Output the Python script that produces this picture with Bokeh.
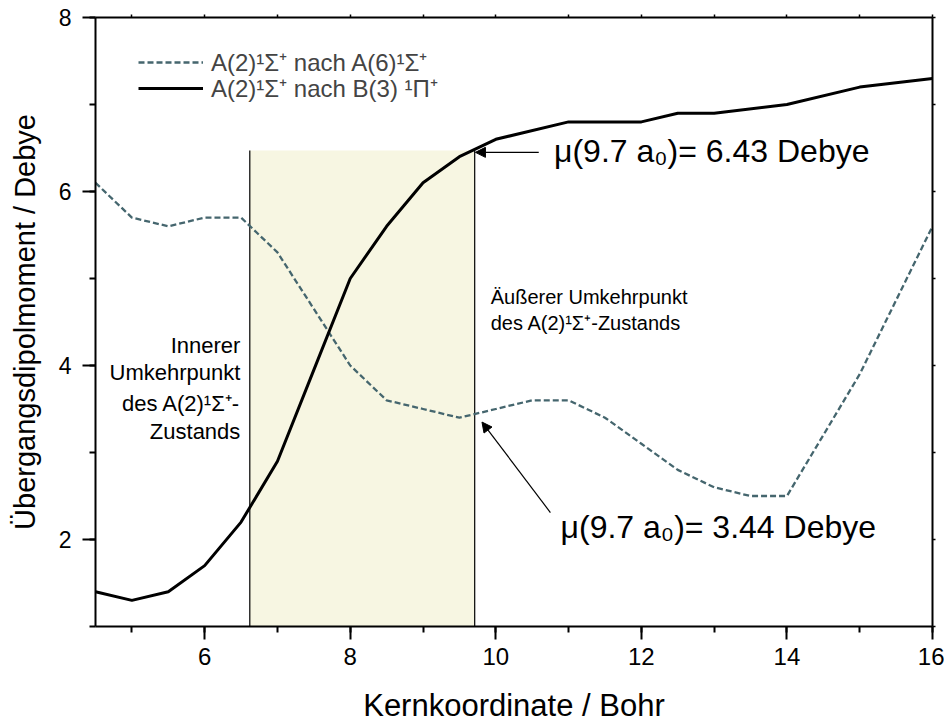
from bokeh.plotting import figure
from bokeh.models import (Range1d, LinearAxis, SingleIntervalTicker, Legend, LegendItem,
                          Arrow, NormalHead)
from bokeh.core.properties import value
from bokeh.embed import file_html
from bokeh.resources import INLINE

# ---- data ----
r_a6 = [4.5, 5, 5.5, 6, 6.5, 7, 7.5, 8, 8.5, 9, 9.5, 10, 10.5, 11, 11.5, 12, 12.5, 13, 13.5, 14, 15, 16]
mu_a6 = [6.1, 5.7, 5.6, 5.7, 5.7, 5.3, 4.65, 4.0, 3.6, 3.5, 3.4, 3.5, 3.6, 3.6, 3.4, 3.1, 2.8, 2.6, 2.5, 2.5, 3.9, 5.6]

r_b3 = [4.5, 5, 5.5, 6, 6.5, 7, 7.5, 8, 8.5, 9, 9.5, 10, 11, 12, 12.5, 13, 14, 15, 16]
mu_b3 = [1.4, 1.3, 1.4, 1.7, 2.2, 2.9, 3.95, 5.0, 5.6, 6.1, 6.4, 6.6, 6.8, 6.8, 6.9, 6.9, 7.0, 7.2, 7.3]

legend_labels = ["A(2)\u00b9\u03a3\u207a nach A(6)\u00b9\u03a3\u207a",
                 "A(2)\u00b9\u03a3\u207a nach B(3) \u00b9\u03a0\u207a"]

# shaded region between inner and outer turning points
box_left = 6.62
box_right = 9.71
box_bottom = 1.0
box_top = 6.47

mu_text = ["\u03bc(9.7 a\u2080)= 6.43 Debye", "\u03bc(9.7 a\u2080)= 3.44 Debye"]
mu_text_x = [10.80, 10.89]
mu_text_y = [6.47, 2.14]

arrow_x_start = [10.59, 10.75]
arrow_y_start = [6.45, 2.31]
arrow_x_end = [9.72, 9.81]
arrow_y_end = [6.45, 3.35]

outer_text = ["\u00c4u\u00dferer Umkehrpunkt", "des A(2)\u00b9\u03a3\u207a-Zustands"]
outer_x = [9.93, 9.93]
outer_y = [4.79, 4.49]

inner_text = ["Innerer", "Umkehrpunkt", "des A(2)\u00b9\u03a3\u207a-", "Zustands"]
inner_x = [6.49, 6.49, 6.49, 6.49]
inner_y = [4.235, 3.92, 3.567, 3.243]

FONT = "Liberation Sans"

p = figure(width=944, height=725, x_range=Range1d(4.5, 16), y_range=Range1d(1, 8),
           output_backend="svg", toolbar_location=None,
           min_border_left=95, min_border_right=12, min_border_top=17, min_border_bottom=96)
p.grid.visible = False
p.outline_line_color = None
p.background_fill_color = "white"
p.border_fill_color = "white"

# axes
xa = p.xaxis[0]
xa.ticker = SingleIntervalTicker(interval=2, num_minor_ticks=2)
xa.axis_label = "Kernkoordinate / Bohr"
ya = p.yaxis[0]
ya.ticker = SingleIntervalTicker(interval=2, num_minor_ticks=2)
ya.axis_label = "\u00dcbergangsdipolmoment / Debye"
for ax in (xa, ya):
    ax.axis_label_text_font = FONT
    ax.axis_label_text_font_style = "normal"
    ax.axis_label_text_color = "black"
    ax.major_label_text_font = FONT
    ax.major_label_text_color = "black"
    ax.axis_line_width = 2
    ax.axis_line_color = "black"
    ax.major_tick_line_width = 2
    ax.minor_tick_line_width = 2
    ax.major_tick_line_color = "black"
    ax.minor_tick_line_color = "black"
    ax.major_tick_in = 0
    ax.minor_tick_in = 0
    ax.major_tick_out = 13
    ax.minor_tick_out = 6
xa.axis_label_text_font_size = "31px"
ya.axis_label_text_font_size = "29px"
xa.major_label_text_font_size = "24px"
ya.major_label_text_font_size = "23px"
xa.major_label_standoff = 8
xa.axis_label_standoff = 20
ya.major_label_standoff = 11
ya.axis_label_standoff = 15

for loc in ("above", "right"):
    ax = LinearAxis(ticker=SingleIntervalTicker(interval=1, num_minor_ticks=0))
    ax.axis_line_width = 2
    ax.axis_line_color = "black"
    ax.major_tick_in = 0
    ax.major_tick_out = 3
    ax.major_tick_line_width = 1.5
    ax.minor_tick_line_color = None
    ax.major_label_text_font_size = "1px"
    ax.major_label_text_alpha = 0
    ax.major_label_standoff = 0
    p.add_layout(ax, loc)

# shaded box
p.quad(left=[box_left], right=[box_right], bottom=[box_bottom], top=[box_top],
       fill_color="#f7f6e2", line_color=None)
p.segment(x0=[box_left, box_right], y0=[box_bottom, box_bottom],
          x1=[box_left, box_right], y1=[box_top, box_top],
          line_color="black", line_width=1.2)

# curves
dash = p.line(r_a6, mu_a6, line_color="#45666e", line_width=2.3, line_dash="6 3")
solid = p.line(r_b3, mu_b3, line_color="black", line_width=3)

# one legend per row so the row spacing can match the reference
for label, rend, loc in ((legend_labels[0], dash, (43, 548)),
                         (legend_labels[1], solid, (43, 522))):
    lg = Legend(items=[LegendItem(label=label, renderers=[rend])], location=loc)
    lg.border_line_color = None
    lg.background_fill_alpha = 0
    lg.label_text_font = FONT
    lg.label_text_font_size = "24px"
    lg.glyph_width = 65
    lg.glyph_height = 24
    lg.label_height = 24
    lg.label_standoff = 8
    lg.spacing = 0
    lg.padding = 0
    lg.margin = 0
    p.add_layout(lg)

# annotations
p.text(x=mu_text_x, y=mu_text_y, text=mu_text, text_font=value(FONT),
       text_font_size=value("32px"), text_baseline="middle", text_align="left", text_color="black")
p.text(x=outer_x, y=outer_y, text=outer_text, text_font=value(FONT),
       text_font_size=value("20px"), text_baseline="middle", text_align="left", text_color="black")
p.text(x=inner_x, y=inner_y, text=inner_text, text_font=value(FONT),
       text_font_size=value("22px"), text_baseline="middle", text_align="right", text_color="black")

for xs, ys, xe, ye in zip(arrow_x_start, arrow_y_start, arrow_x_end, arrow_y_end):
    p.add_layout(Arrow(end=NormalHead(size=10, fill_color="black", line_color="black", line_width=1),
                       x_start=xs, y_start=ys, x_end=xe, y_end=ye,
                       line_color="black", line_width=1.2))

open("out.html", "w").write(file_html(p, INLINE))
